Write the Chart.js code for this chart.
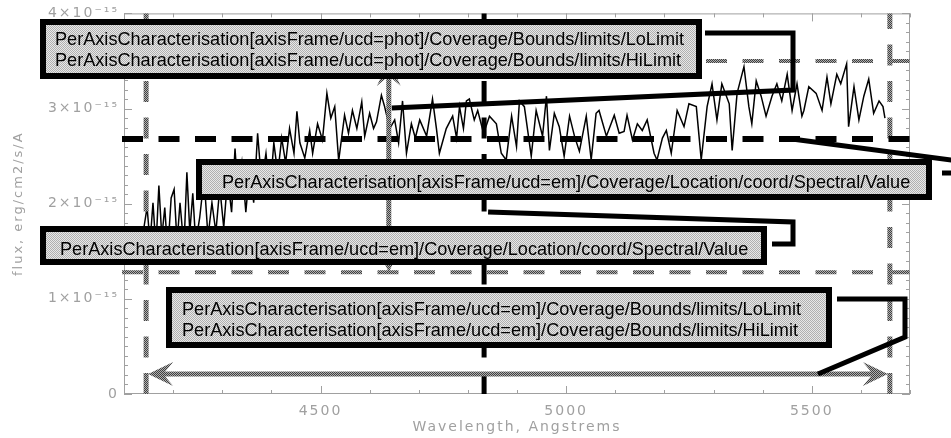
<!DOCTYPE html>
<html>
<head>
<meta charset="utf-8">
<script src="https://cdn.jsdelivr.net/npm/chart.js@4.4.1/dist/chart.umd.min.js"></script>
<style>
  html, body { margin: 0; padding: 0; background: #fff; }
</style>
</head>
<body>
<canvas id="spec" width="951" height="438"></canvas>
<script>
// spectrum, wavelength in Angstrem, flux in units of 1e-15 erg/cm2/s/A
const wavelength = [4139,4147,4153,4159,4165,4171,4177,4183,4189,4196,
  4202,4208,4214,4222,4228,4234,4240,4246,4254,4263,
  4271,4279,4287,4295,4303,4311,4319,4326,4332,4340,
  4348,4356,4364,4372,4380,4389,4397,4405,4413,4421,
  4429,4437,4446,4452,4458,4468,4478,4484,4494,4504,
  4513,4521,4529,4537,4549,4557,4565,4574,4584,4590,
  4600,4608,4614,4624,4630,4641,4651,4659,4667,4675,
  4685,4693,4702,4716,4728,4736,4742,4756,4769,4777,
  4783,4791,4797,4803,4813,4820,4832,4844,4858,4868,
  4878,4889,4899,4905,4915,4929,4939,4952,4960,4966,
  4976,4986,4996,5007,5017,5027,5041,5051,5061,5067,
  5082,5098,5108,5118,5124,5135,5145,5155,5165,5179,
  5185,5196,5204,5214,5226,5240,5250,5265,5275,5287,
  5297,5307,5317,5332,5338,5348,5362,5372,5378,5387,
  5397,5407,5419,5429,5439,5450,5460,5470,5480,5484,
  5494,5509,5521,5531,5539,5551,5559,5571,5575,5586,
  5596,5606,5616,5626,5637,5645,5649];
const flux = [1.70,1.96,1.59,2.01,1.54,2.19,1.65,1.96,1.49,2.06,
  2.15,1.59,2.01,1.54,2.33,1.70,2.11,1.59,1.85,2.27,
  1.65,2.01,1.70,2.17,1.75,2.27,1.91,2.58,2.11,2.43,
  1.91,2.38,2.01,2.74,2.22,2.53,2.11,2.64,2.32,2.69,
  2.43,2.79,2.53,2.97,2.64,2.48,2.77,2.53,2.84,2.67,
  3.16,2.90,3.02,2.45,2.93,2.74,2.98,2.79,3.07,2.71,
  2.95,2.79,2.86,3.14,3.03,2.79,2.88,2.64,3.08,2.53,
  2.84,2.69,2.88,2.71,3.10,2.79,2.53,2.79,2.92,2.69,
  3.02,2.79,3.08,3.10,2.88,2.98,2.74,2.92,2.84,2.53,
  2.46,2.92,2.60,3.08,3.02,2.50,2.98,2.71,3.13,2.56,
  2.95,2.81,2.50,2.92,2.71,2.55,2.92,2.46,2.95,2.98,
  2.71,2.93,2.74,2.76,2.93,2.67,2.84,2.77,2.88,2.53,
  2.46,2.69,2.77,2.53,2.98,2.81,3.05,3.02,2.46,3.02,
  3.26,2.88,3.26,3.05,2.56,3.16,3.44,3.02,2.84,3.29,
  3.13,2.92,3.13,3.26,3.08,3.36,2.98,3.26,2.92,2.98,
  3.23,3.16,2.98,3.33,3.05,3.36,3.26,3.47,2.81,3.23,
  2.88,3.13,3.31,2.95,3.08,3.02,2.90];

const xTicks = [4500, 5000, 5500];
const xTickLabels = ['4500', '5000', '5500'];
const yTicks = [0, 1, 2, 3, 4];
const yTickLabels = ['0', '1×10⁻¹⁵', '2×10⁻¹⁵', '3×10⁻¹⁵', '4×10⁻¹⁵'];

// characterisation values
const emBounds = [4145, 5659];     // LoLimit, HiLimit
const emLocation = 4833;
const photBounds = [1.28, 3.50];   // LoLimit, HiLimit
const photLocation = 2.68;
const photArrowAt = 4639;          // where the flux range arrow is drawn
const emArrowAt = 0.21;            // where the wavelength range arrow is drawn

const photBoundsText = ['PerAxisCharacterisation[axisFrame/ucd=phot]/Coverage/Bounds/limits/LoLimit',
                        'PerAxisCharacterisation[axisFrame/ucd=phot]/Coverage/Bounds/limits/HiLimit'];
const emLocationText = 'PerAxisCharacterisation[axisFrame/ucd=em]/Coverage/Location/coord/Spectral/Value';
const emBoundsText = ['PerAxisCharacterisation[axisFrame/ucd=em]/Coverage/Bounds/limits/LoLimit',
                      'PerAxisCharacterisation[axisFrame/ucd=em]/Coverage/Bounds/limits/HiLimit'];

const AXIS_GREY = '#a0a0a0';

function checker(a, b) {
  const c = document.createElement('canvas');
  c.width = c.height = 2;
  const g = c.getContext('2d');
  g.fillStyle = a; g.fillRect(0, 0, 2, 2);
  g.fillStyle = b; g.fillRect(0, 0, 1, 1); g.fillRect(1, 1, 1, 1);
  return c;
}

function dashed(ctx, x1, y1, x2, y2, style, width) {
  ctx.save();
  ctx.strokeStyle = style;
  ctx.lineWidth = width;
  ctx.setLineDash([21, 15.5]);
  ctx.beginPath();
  ctx.moveTo(x1, y1);
  ctx.lineTo(x2, y2);
  ctx.stroke();
  ctx.restore();
}

function arrowHead(ctx, tx, ty, dx, dy) {
  const px = -dy, py = dx;
  ctx.beginPath();
  ctx.moveTo(tx, ty);
  ctx.lineTo(tx - dx * 25 + px * 12, ty - dy * 25 + py * 12);
  ctx.lineTo(tx - dx * 15, ty - dy * 15);
  ctx.lineTo(tx - dx * 25 - px * 12, ty - dy * 25 - py * 12);
  ctx.closePath();
  ctx.fill();
}

function doubleArrow(ctx, x1, y1, x2, y2, style) {
  const len = Math.hypot(x2 - x1, y2 - y1);
  const dx = (x2 - x1) / len, dy = (y2 - y1) / len;
  ctx.save();
  ctx.strokeStyle = style;
  ctx.fillStyle = style;
  ctx.lineWidth = 5;
  ctx.beginPath();
  ctx.moveTo(x1 + dx * 12, y1 + dy * 12);
  ctx.lineTo(x2 - dx * 12, y2 - dy * 12);
  ctx.stroke();
  arrowHead(ctx, x2, y2, dx, dy);
  arrowHead(ctx, x1, y1, -dx, -dy);
  ctx.restore();
}

function polyline(ctx, pts) {
  ctx.save();
  ctx.strokeStyle = '#000';
  ctx.lineWidth = 5;
  ctx.lineJoin = 'miter';
  ctx.beginPath();
  pts.forEach((p, i) => i ? ctx.lineTo(p[0], p[1]) : ctx.moveTo(p[0], p[1]));
  ctx.stroke();
  ctx.restore();
}

function labelBox(ctx, l, t, r, b, fill, lines, size) {
  ctx.save();
  ctx.fillStyle = fill;
  ctx.fillRect(l, t, r - l, b - t);
  ctx.strokeStyle = '#000';
  ctx.lineWidth = 6;
  ctx.strokeRect(l + 3, t + 3, r - l - 6, b - t - 6);
  ctx.fillStyle = '#000';
  ctx.font = size + 'px "Liberation Sans", Arial, sans-serif';
  ctx.textBaseline = 'alphabetic';
  lines.forEach(([txt, x, y]) => ctx.fillText(txt, x, y));
  ctx.restore();
}

const overlay = {
  id: 'overlay',
  beforeDraw(chart) {
    chart.ctx.letterSpacing = '2px';
  },
  beforeDatasetsDraw(chart) {
    const { ctx, chartArea: a, scales: { x, y } } = chart;
    ctx.letterSpacing = '0px';
    ctx.save();
    ctx.strokeStyle = AXIS_GREY;
    ctx.lineWidth = 1;
    ctx.strokeRect(a.left + 0.5, a.top + 0.5, a.right - a.left - 1, a.bottom - a.top - 1);
    ctx.beginPath();
    for (let v = 4100; v <= 5700; v += 100) {
      const px = Math.round(x.getPixelForValue(v)) + 0.5;
      const len = v % 500 === 0 ? 8 : 4;
      ctx.moveTo(px, a.bottom); ctx.lineTo(px, a.bottom - len);
      ctx.moveTo(px, a.top); ctx.lineTo(px, a.top + len);
    }
    for (let i = 0; i <= 40; i++) {
      const py = Math.round(y.getPixelForValue(i / 10)) + 0.5;
      const len = i % 10 === 0 ? 8 : 4;
      ctx.moveTo(a.left, py); ctx.lineTo(a.left + len, py);
      ctx.moveTo(a.right, py); ctx.lineTo(a.right - len, py);
    }
    ctx.stroke();
    ctx.restore();
  },
  afterDatasetsDraw(chart) {
    const { ctx, chartArea: a, scales: { x, y } } = chart;
    ctx.letterSpacing = '0px';
    const grey = ctx.createPattern(checker('#b0b0b0', '#404040'), 'repeat');
    const boxFill = ctx.createPattern(checker('#e8e8e8', '#b0b0b0'), 'repeat');

    // bounds (grey) and locations (black)
    photBounds.forEach(v => dashed(ctx, a.left - 2, y.getPixelForValue(v), a.right, y.getPixelForValue(v), grey, 4));
    emBounds.forEach(v => dashed(ctx, x.getPixelForValue(v), a.bottom, x.getPixelForValue(v), a.top, grey, 5));
    dashed(ctx, a.left - 2, y.getPixelForValue(photLocation), a.right, y.getPixelForValue(photLocation), '#000', 6);
    dashed(ctx, x.getPixelForValue(emLocation), a.bottom, x.getPixelForValue(emLocation), a.top, '#000', 5);

    // range arrows
    const pax = x.getPixelForValue(photArrowAt);
    doubleArrow(ctx, pax, y.getPixelForValue(photBounds[1]), pax, y.getPixelForValue(photBounds[0]), grey);
    const eay = y.getPixelForValue(emArrowAt);
    doubleArrow(ctx, x.getPixelForValue(emBounds[0]) + 2, eay, x.getPixelForValue(emBounds[1]) - 2, eay, grey);

    // font size so the long label fills its box as in the figure
    ctx.font = '16px "Liberation Sans", Arial, sans-serif';
    const size = 16 * 689 / ctx.measureText(emLocationText).width;

    labelBox(ctx, 40, 19, 702, 79, boxFill,
      [[photBoundsText[0], 55, 45], [photBoundsText[1], 55, 66]], size);
    labelBox(ctx, 196, 159, 932, 200, boxFill, [[emLocationText, 222, 188]], size);
    labelBox(ctx, 40, 226, 767, 265, boxFill, [[emLocationText, 60, 255]], size);
    labelBox(ctx, 166, 287, 832, 348, boxFill,
      [[emBoundsText[0], 182, 315], [emBoundsText[1], 182, 336]], size);

    // connectors
    polyline(ctx, [[705, 33], [793, 33], [793, 90], [pax + 3, 108]]);
    polyline(ctx, [[942, 173], [966, 173], [966, 162], [792, y.getPixelForValue(photLocation)]]);
    polyline(ctx, [[772, 244], [793, 244], [793, 222], [x.getPixelForValue(emLocation) + 4, 212]]);
    polyline(ctx, [[837, 299], [905, 299], [905, 337], [818, eay]]);
  }
};

new Chart(document.getElementById('spec'), {
  type: 'line',
  data: {
    datasets: [{
      data: wavelength.map((w, i) => ({ x: w, y: flux[i] })),
      borderColor: '#000',
      borderWidth: 1.5,
      pointRadius: 0,
      tension: 0,
      fill: false
    }]
  },
  options: {
    responsive: false,
    devicePixelRatio: 1,
    animation: false,
    layout: { padding: { top: 10, right: 41, left: 0, bottom: 0 } },
    plugins: { legend: { display: false }, tooltip: { enabled: false } },
    scales: {
      x: {
        type: 'linear',
        min: 4100,
        max: 5700,
        afterBuildTicks: s => { s.ticks = xTicks.map(v => ({ value: v })); },
        afterFit: s => { s.height = 44; },
        grid: { display: false, drawTicks: false },
        border: { display: false },
        ticks: {
          color: AXIS_GREY,
          font: { family: 'DejaVu Sans', size: 14 },
          padding: 9,
          maxRotation: 0,
          autoSkip: false,
          callback: v => xTickLabels[xTicks.indexOf(v)]
        },
        title: {
          display: true,
          text: 'Wavelength, Angstrems',
          color: AXIS_GREY,
          font: { family: 'DejaVu Sans', size: 14 },
          padding: { top: 0, bottom: 2 }
        }
      },
      y: {
        min: 0,
        max: 4,
        afterBuildTicks: s => { s.ticks = yTicks.map(v => ({ value: v })); },
        afterFit: s => { s.width = 124; },
        grid: { display: false, drawTicks: false },
        border: { display: false },
        ticks: {
          color: AXIS_GREY,
          font: { family: 'DejaVu Sans', size: 14 },
          padding: 5,
          autoSkip: false,
          callback: v => yTickLabels[yTicks.indexOf(v)]
        },
        title: {
          display: true,
          text: 'flux, erg/cm2/s/A',
          color: AXIS_GREY,
          font: { family: 'DejaVu Sans', size: 13 },
          padding: { top: 11, bottom: 0 }
        }
      }
    }
  },
  plugins: [overlay]
});
</script>
</body>
</html>
